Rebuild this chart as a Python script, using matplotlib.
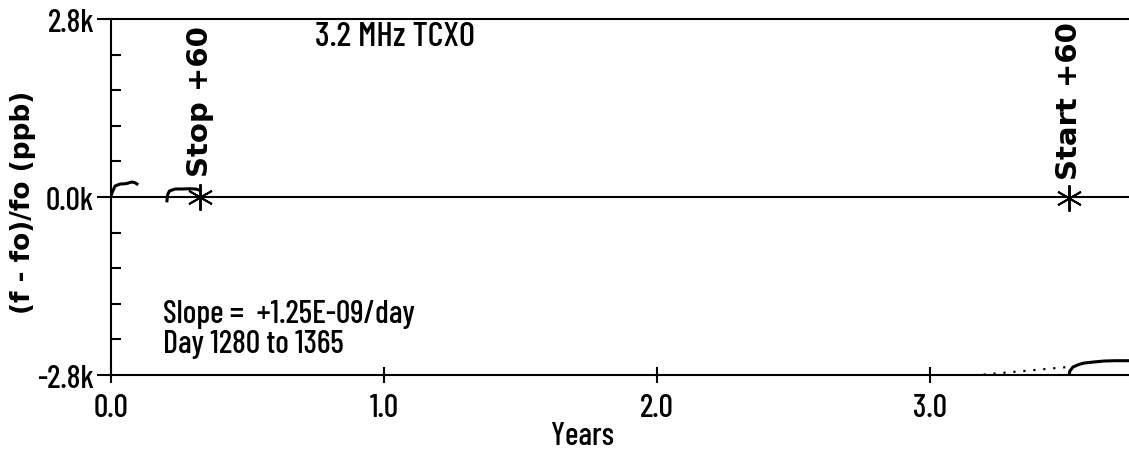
import matplotlib
matplotlib.use("Agg")
import matplotlib.pyplot as plt
from matplotlib import font_manager
from matplotlib.ticker import FixedLocator

# narrow sans for the plain text, bold wide sans for the rotated labels
names = {f.name for f in font_manager.fontManager.ttflist}
NARROW = "Liberation Sans"
for cand in ["Barlow Condensed", "Roboto Condensed"]:
    if cand in names:
        NARROW = cand
        break
BOLD = "DejaVu Sans"
FS = 23

# data (years, ppb)
seg1_years = [0.0, 0.006, 0.015, 0.033, 0.055, 0.077, 0.088, 0.095]
seg1_ppb = [16, 90, 173, 204, 210, 236, 225, 205]

seg2_years = [0.205, 0.207, 0.214, 0.235, 0.26, 0.29, 0.31, 0.323]
seg2_ppb = [-60, 30, 94, 126, 126, 130, 126, 110]

seg3_years = [3.509, 3.512, 3.524, 3.545, 3.564, 3.60, 3.638, 3.68, 3.733]
seg3_ppb = [-2830, -2740, -2674, -2635, -2612, -2595, -2580, -2575, -2575]

fit_years = [3.05, 3.506]
fit_ppb = [-2850, -2674]

event_years = [0.326, 3.51]
event_ppb = [0, -10]
event_labels = ["Stop +60", "Start +60"]
event_text_ppb = [330, 283]

x_ticks = [0.0, 1.0, 2.0, 3.0]
x_labels = ["0.0", "1.0", "2.0", "3.0"]
y_major = [-2800, 0, 2800]
y_labels = ["-2.8k", "0.0k", "2.8k"]
y_minor = [-2240, -1680, -1120, -560, 560, 1120, 1680, 2240]

fig = plt.figure(figsize=(11.29, 4.6), dpi=100)
ax = fig.add_axes([0.0983, 0.1826, 0.9017, 0.7739])

ax.plot(seg1_years, seg1_ppb, color="black", lw=2.2)
ax.plot(seg2_years, seg2_ppb, color="black", lw=2.2)
ax.plot(seg3_years, seg3_ppb, color="black", lw=2.2)
ax.plot(fit_years, fit_ppb, color="black", lw=1.6, ls=(0, (1, 3.5)))

ax.axhline(0, color="black", lw=1.5)

for yr, val, lab, ty in zip(event_years, event_ppb, event_labels, event_text_ppb):
    ax.plot([yr], [val], marker=(6, 2, 0), ms=19, mew=1.4, color="black")
    ax.text(yr, ty, lab, rotation=90, ha="center", va="bottom",
            family=BOLD, fontweight="bold", fontsize=21)

ax.set_xlim(0, 3.729)
ax.set_ylim(-2800, 2800)

ax.spines["right"].set_visible(False)
for s in ["left", "top", "bottom"]:
    ax.spines[s].set_linewidth(1.5)

ax.set_xticks(x_ticks)
ax.set_xticklabels(x_labels, family=NARROW, fontsize=FS, fontweight="medium")
ax.set_yticks(y_major)
ax.set_yticklabels(y_labels, family=NARROW, fontsize=FS, fontweight="medium")
ax.yaxis.set_minor_locator(FixedLocator(y_minor))
ax.tick_params(axis="x", direction="inout", length=11.5, width=1.5, pad=7)
ax.tick_params(axis="y", which="major", direction="out", length=10, width=1.5, pad=2)
ax.tick_params(axis="y", which="minor", direction="in", length=7, width=1.5)

ax.set_ylabel("(f - fo)/fo (ppb)", family=BOLD, fontweight="bold", fontsize=19)
ax.yaxis.set_label_coords(-0.0864, 0.489)
ax.yaxis.label.set_va("center")
ax.yaxis.label.set_ha("center")

fig.text(583 / 1129, 1 - 437 / 460, "Years", ha="center", va="center",
         family=NARROW, fontsize=FS, fontweight="medium")

ax.text(0.747, 2520, "3.2 MHz TCXO", ha="left", va="center",
        family=NARROW, fontsize=25, fontweight="medium")
ax.text(0.191, -1840, "Slope =  +1.25E-09/day", ha="left", va="center",
        family=NARROW, fontsize=FS, fontweight="medium")
ax.text(0.191, -2310, "Day 1280 to 1365", ha="left", va="center",
        family=NARROW, fontsize=FS, fontweight="medium")

fig.savefig("out.png", dpi=100)
